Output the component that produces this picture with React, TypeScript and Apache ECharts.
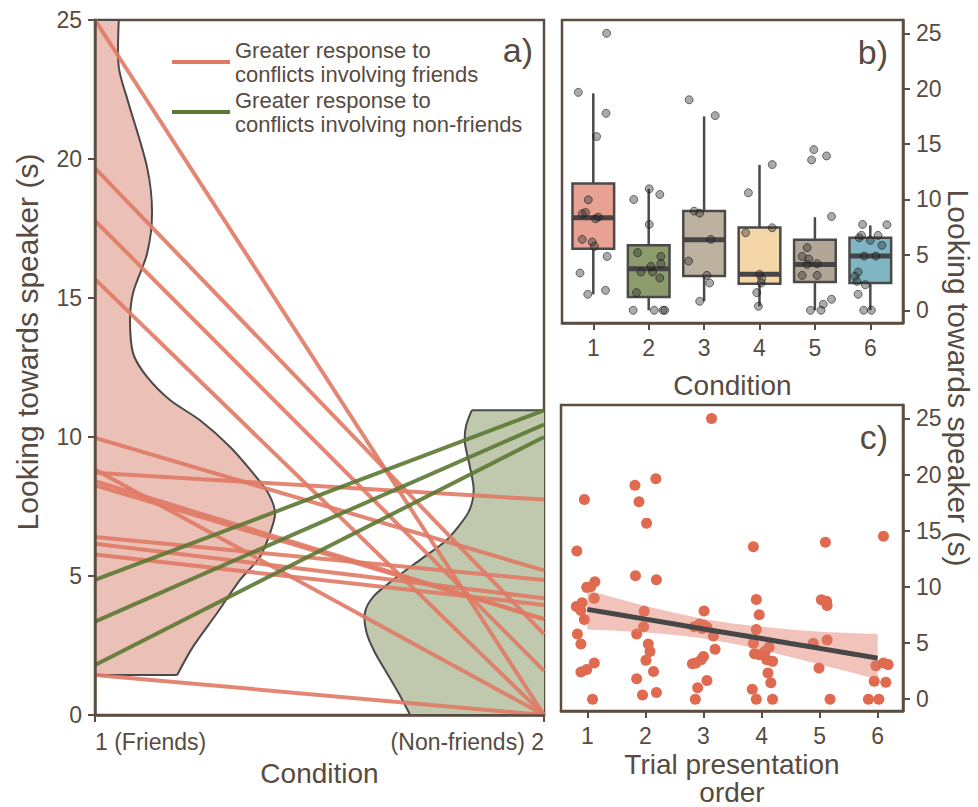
import React, { useEffect, useRef } from "react";
import * as echarts from "echarts";

// ---------- Panel a: paired values per participant ----------
const friendsValues = [25, 19.67, 17.78, 15.68, 9.97, 8.83, 8.71, 8.41, 8.26, 6.4, 6.16, 5.77, 4.86, 3.36, 1.8, 1.44];
const nonFriendsValues = [0, 2.91, 1.59, 0, 5.2, 0, 7.75, 3.45, 3.45, 4.86, 4.2, 3.96, 10.96, 10.45, 10.0, 0];
const conditionLabelsA = ["1 (Friends)", "(Non-friends) 2"];

// half-violin outlines: value levels and half widths (fraction of category spacing)
const violinFriendsY = [1.44, 2.45, 3.67, 4.86, 5.68, 6.55, 7.27, 8.0, 8.7, 9.64, 10.6, 11.33, 12.16, 13.0, 14.2, 15.2, 16.6, 18.06, 19.7, 22.1, 23.3, 25];
const violinFriendsW = [0.183, 0.218, 0.272, 0.323, 0.367, 0.39, 0.401, 0.385, 0.352, 0.301, 0.234, 0.167, 0.116, 0.085, 0.078, 0.085, 0.116, 0.127, 0.116, 0.073, 0.053, 0.053];
const violinNonFriendsY = [0, 0.79, 1.51, 2.23, 2.95, 3.67, 4.26, 4.86, 5.58, 6.29, 6.77, 7.27, 7.73, 8.21, 8.93, 9.78, 10.37, 10.96];
const violinNonFriendsW = [0.298, 0.324, 0.35, 0.376, 0.395, 0.399, 0.38, 0.336, 0.276, 0.217, 0.191, 0.169, 0.159, 0.157, 0.165, 0.176, 0.174, 0.161];

// ---------- Panel b: boxplots per condition ----------
const conditions = [1, 2, 3, 4, 5, 6];
const boxLow = [1.44, 0, 0.81, 0.36, 0, 0];
const boxQ1 = [5.56, 1.2, 3.09, 2.4, 2.55, 2.46];
const boxMedian = [8.35, 3.75, 6.37, 3.24, 4.14, 4.89];
const boxQ3 = [11.44, 5.86, 8.95, 7.48, 6.37, 6.55];
const boxHigh = [19.58, 10.96, 17.5, 13.12, 8.4, 7.66];
const boxColors = ["#e8a294", "#8d9c6d", "#bdb2a0", "#f5d6a8", "#b2a696", "#80b6c4"];

const stripX = [
  1.24, 0.73, 1.23, 1.06, 0.91, 0.8, 0.86, 1.04, 1.09, 0.8, 0.98, 1.02, 1.25, 0.76, 0.9, 1.22,
  1.73, 2.01, 2.2, 2.01, 1.8, 2.04, 1.86, 2.07, 2.22, 2.22, 2.2, 1.78, 1.72, 2.1, 2.26, 2.29,
  2.73, 3.2, 2.82, 2.92, 3.12, 2.72, 3.05, 3.1, 2.92,
  3.8, 4.23, 3.75, 4.23, 4.0, 4.04, 4.03, 3.95, 3.98,
  4.98, 4.94, 5.21, 5.3, 4.86, 4.77, 4.89, 4.86, 5.04, 4.77, 5.04, 5.3, 5.15, 4.92, 5.11,
  5.86, 6.3, 5.8, 5.84, 6.0, 6.14, 6.21, 5.89, 6.1, 5.78, 5.72, 5.76, 5.91, 5.78, 5.88, 6.02,
];
const stripY = [
  25, 19.67, 17.78, 15.68, 9.97, 8.71, 8.83, 8.26, 8.41, 6.4, 6.16, 5.77, 4.86, 3.36, 1.44, 1.8,
  10.0, 10.96, 10.45, 7.75, 5.2, 3.96, 3.45, 3.45, 4.86, 4.2, 2.91, 1.59, 0, 0, 0, 0,
  19.0, 17.57, 8.95, 8.77, 6.4, 4.44, 3.15, 2.46, 0.81,
  10.6, 13.15, 7.0, 7.45, 3.24, 2.85, 2.46, 1.59, 0.36,
  14.5, 13.57, 13.93, 8.47, 5.65, 4.86, 4.62, 4.14, 4.2, 3.15, 3.15, 0.99, 0.54, 0, 0,
  7.75, 7.72, 6.55, 6.76, 6.31, 6.76, 5.86, 4.89, 4.89, 3.45, 3.06, 2.61, 2.31, 1.44, 0, 0,
];

// ---------- Panel c: trial order ----------
const trialX = [
  0.82, 0.95, 0.99, 1.13, 1.06, 1.12, 0.81, 0.91, 0.89, 0.95, 0.83, 0.89, 0.89, 0.99, 1.12, 1.09,
  1.82, 2.18, 1.89, 2.02, 1.83, 2.19, 1.98, 1.97, 1.85, 2.05, 2.08, 2.01, 2.14, 1.85, 1.95, 2.19,
  3.14, 3.01, 2.84, 2.93, 2.98, 3.0, 3.06, 3.17, 3.2, 3.0, 2.96, 2.87, 2.81, 3.06, 2.9, 2.86,
  3.86, 3.91, 3.96, 3.91, 3.86, 3.88, 3.96, 4.06, 4.13, 4.09, 4.19, 4.11, 4.16, 3.84, 3.91, 4.19,
  5.1, 5.03, 5.12, 5.13, 4.89, 5.13, 4.99, 5.18,
  6.1, 5.97, 6.1, 6.18, 5.94, 6.14, 5.84, 6.02,
];
const trialY = [
  13.19, 17.79, 9.96, 10.46, 10.02, 9.0, 8.26, 8.59, 7.91, 7.09, 5.8, 4.92, 2.43, 2.64, 3.22, 0,
  19.05, 19.64, 17.58, 15.68, 10.99, 10.64, 7.83, 6.45, 5.8, 4.92, 4.25, 3.46, 2.46, 1.82, 0.38, 0.59,
  25.0, 7.85, 6.45, 6.7, 6.3, 6.6, 6.4, 5.63, 4.45, 3.81, 3.52, 3.22, 3.16, 1.67, 1.03, 0,
  13.57, 8.88, 7.53, 6.21, 4.98, 4.04, 3.96, 4.25, 4.63, 3.52, 3.37, 2.34, 1.47, 0.88, 0, 0,
  13.98, 8.85, 8.73, 8.35, 4.98, 5.28, 2.78, 0,
  14.51, 2.99, 3.22, 3.08, 1.61, 1.52, 0, 0,
];
const trendX = [1, 1.5, 2, 2.5, 3, 3.5, 4, 4.5, 5, 5.5, 6];
const trendY = [8.0, 7.57, 7.13, 6.7, 6.26, 5.83, 5.4, 4.96, 4.53, 4.09, 3.66];
const bandHigh = [9.7, 9.0, 8.3, 7.7, 7.15, 6.75, 6.45, 6.2, 6.0, 5.9, 5.8];
const bandLow = [6.2, 6.1, 5.95, 5.75, 5.4, 4.95, 4.4, 3.75, 3.1, 2.45, 1.75];

const yTicks = [0, 5, 10, 15, 20, 25];

const FONT = "'Liberation Sans', Arial, Helvetica, sans-serif";
const AXIS = "#5b4e40";
const TEXT = "#574b3f";
const RED = "#e07a65";
const GREEN = "#5c7833";
const NAME_F = "Greater response to\nconflicts involving friends";
const NAME_NF = "Greater response to\nconflicts involving non-friends";
const Y_TITLE = "Looking towards speaker (s)";

export default function App() {
  const ref = useRef<HTMLDivElement>(null);

  useEffect(() => {
    if (!ref.current) return;
    const chart = echarts.init(ref.current, null, { renderer: "svg" });

    const tickStyle = (extra: any = {}) => ({
      show: true,
      length: 7,
      lineStyle: { color: AXIS, width: 2 },
      ...extra,
    });
    const labelStyle = (extra: any = {}) => ({
      color: TEXT,
      fontSize: 23,
      fontFamily: FONT,
      ...extra,
    });
    const nameStyle = { color: TEXT, fontSize: 28, fontFamily: FONT };
    const axisLine = { show: true, onZero: false, lineStyle: { color: AXIS, width: 2.5 } };

    const participantSeries = friendsValues.map((f, i) => {
      const nf = nonFriendsValues[i];
      const friendsHigher = f > nf;
      const color = friendsHigher ? RED : GREEN;
      return {
        type: "line",
        name: friendsHigher ? NAME_F : NAME_NF,
        xAxisIndex: 0,
        yAxisIndex: 0,
        data: [
          [1, f],
          [2, nf],
        ],
        symbol: "none",
        silent: true,
        z: friendsHigher ? 3 : 4,
        lineStyle: { color, width: 4, opacity: 0.9 },
        itemStyle: { color },
        emphasis: { disabled: true },
      };
    });

    const violinSeries = {
      type: "custom",
      xAxisIndex: 0,
      yAxisIndex: 0,
      silent: true,
      z: 1,
      data: [[1], [2]],
      renderItem: (params: any, api: any) => {
        const i = params.dataIndex;
        const ys = i === 0 ? violinFriendsY : violinNonFriendsY;
        const ws = i === 0 ? violinFriendsW : violinNonFriendsW;
        const base = i === 0 ? 1 : 2;
        const dir = i === 0 ? 1 : -1;
        const curve = ys.map((y, k) => api.coord([base + dir * ws[k], y]));
        const b0 = api.coord([base, ys[0]]);
        const b1 = api.coord([base, ys[ys.length - 1]]);
        const fill = i === 0 ? "#ebc0b6" : "#c0c8ae";
        const stroke = { stroke: "#4a4a4a", lineWidth: 2, fill: "none" };
        const last = curve[curve.length - 1];
        return {
          type: "group",
          children: [
            {
              type: "polygon",
              shape: { points: [b0, ...curve, b1] },
              style: { fill, stroke: "none" },
            },
            { type: "polyline", shape: { points: curve, smooth: 0.3 }, style: stroke },
            { type: "line", shape: { x1: b0[0], y1: b0[1], x2: curve[0][0], y2: curve[0][1] }, style: stroke },
            { type: "line", shape: { x1: b1[0], y1: b1[1], x2: last[0], y2: last[1] }, style: stroke },
          ],
        };
      },
    };

    const boxSeries = {
      type: "custom",
      xAxisIndex: 1,
      yAxisIndex: 1,
      silent: true,
      z: 2,
      encode: { x: 0, y: [1, 2, 3, 4, 5] },
      data: conditions.map((c, i) => [c, boxLow[i], boxQ1[i], boxMedian[i], boxQ3[i], boxHigh[i]]),
      renderItem: (params: any, api: any) => {
        const idx = params.dataIndex;
        const x = api.value(0);
        const lo = api.value(1);
        const q1 = api.value(2);
        const med = api.value(3);
        const q3 = api.value(4);
        const hi = api.value(5);
        const half = 0.376;
        const tl = api.coord([x - half, q3]);
        const br = api.coord([x + half, q1]);
        const cHi = api.coord([x, hi]);
        const cQ3 = api.coord([x, q3]);
        const cQ1 = api.coord([x, q1]);
        const cLo = api.coord([x, lo]);
        const mL = api.coord([x - half, med]);
        const mR = api.coord([x + half, med]);
        const edge = { stroke: "#4a4a4a", lineWidth: 2.5 };
        return {
          type: "group",
          children: [
            { type: "line", shape: { x1: cHi[0], y1: cHi[1], x2: cQ3[0], y2: cQ3[1] }, style: edge },
            { type: "line", shape: { x1: cQ1[0], y1: cQ1[1], x2: cLo[0], y2: cLo[1] }, style: edge },
            {
              type: "rect",
              shape: { x: tl[0], y: tl[1], width: br[0] - tl[0], height: br[1] - tl[1] },
              style: { fill: boxColors[idx], ...edge },
            },
            { type: "line", shape: { x1: mL[0], y1: mL[1], x2: mR[0], y2: mR[1] }, style: { stroke: "#454545", lineWidth: 5 } },
          ],
        };
      },
    };

    const bandSeries = {
      type: "custom",
      xAxisIndex: 2,
      yAxisIndex: 2,
      silent: true,
      z: 3,
      data: [[trendX[0], trendY[0]]],
      renderItem: (_params: any, api: any) => {
        const upper = trendX.map((x, i) => api.coord([x, bandHigh[i]]));
        const lower = trendX.map((x, i) => api.coord([x, bandLow[i]])).reverse();
        return {
          type: "polygon",
          shape: { points: [...upper, ...lower] },
          style: { fill: "rgba(226,122,104,0.45)", stroke: "none" },
        };
      },
    };

    const textEl = (text: string, x: number, y: number, fontSize: number, align: string, rotation = 0) => ({
      type: "text",
      x,
      y,
      rotation,
      silent: true,
      style: {
        text,
        fontSize,
        fontFamily: FONT,
        fill: TEXT,
        align,
        verticalAlign: "middle",
        textAlign: align,
        textVerticalAlign: "middle",
      },
    });

    const option: any = {
      animation: false,
      backgroundColor: "#ffffff",
      textStyle: { fontFamily: FONT },
      legend: {
        data: [
          { name: NAME_F, icon: "rect", itemStyle: { color: RED } },
          { name: NAME_NF, icon: "rect", itemStyle: { color: GREEN } },
        ],
        orient: "vertical",
        left: 167,
        top: 33,
        padding: 5,
        itemWidth: 58,
        itemHeight: 4,
        itemGap: 2,
        selectedMode: false,
        textStyle: { color: TEXT, fontSize: 22, lineHeight: 24, fontFamily: FONT },
      },
      grid: [
        { left: 95, top: 20, width: 449, height: 695, show: true, borderColor: AXIS, borderWidth: 2.5, backgroundColor: "transparent" },
        { left: 562, top: 20, width: 341, height: 303, show: true, borderColor: AXIS, borderWidth: 2.5, backgroundColor: "transparent" },
        { left: 561, top: 405, width: 342, height: 310, show: true, borderColor: AXIS, borderWidth: 2.5, backgroundColor: "transparent" },
      ],
      xAxis: [
        {
          gridIndex: 0,
          type: "value",
          min: 1,
          max: 2,
          interval: 1,
          z: 6,
          axisLine,
          axisTick: tickStyle(),
          splitLine: { show: false },
          axisLabel: labelStyle({
            margin: 15,
            formatter: (v: number) => (v === 1 ? conditionLabelsA[0] : conditionLabelsA[1]),
            alignMinLabel: "left",
            alignMaxLabel: "right",
            showMinLabel: true,
            showMaxLabel: true,
          }),
          name: "Condition",
          nameLocation: "middle",
          nameGap: 44,
          nameTextStyle: nameStyle,
        },
        {
          gridIndex: 1,
          type: "value",
          min: 0.435,
          max: 6.59,
          z: 6,
          axisLine,
          axisTick: tickStyle({ customValues: conditions }),
          splitLine: { show: false },
          axisLabel: labelStyle({ margin: 13, customValues: conditions }),
          name: "Condition",
          nameLocation: "middle",
          nameGap: 48,
          nameTextStyle: nameStyle,
        },
        {
          gridIndex: 2,
          type: "value",
          min: 0.547,
          max: 6.436,
          z: 6,
          axisLine,
          axisTick: tickStyle({ customValues: conditions }),
          splitLine: { show: false },
          axisLabel: labelStyle({ margin: 13, customValues: conditions }),
          name: "Trial presentation\norder",
          nameLocation: "middle",
          nameGap: 39,
          nameTextStyle: { ...nameStyle, lineHeight: 28 },
        },
      ],
      yAxis: [
        {
          gridIndex: 0,
          type: "value",
          min: 0,
          max: 25,
          interval: 5,
          z: 6,
          axisLine,
          axisTick: tickStyle(),
          splitLine: { show: false },
          axisLabel: labelStyle({ margin: 13 }),
        },
        {
          gridIndex: 1,
          type: "value",
          position: "right",
          min: -1.15,
          max: 26.2,
          z: 6,
          axisLine,
          axisTick: tickStyle({ customValues: yTicks }),
          splitLine: { show: false },
          axisLabel: labelStyle({ margin: 13, customValues: yTicks }),
        },
        {
          gridIndex: 2,
          type: "value",
          position: "right",
          min: -1.05,
          max: 26.2,
          z: 6,
          axisLine,
          axisTick: tickStyle({ customValues: yTicks }),
          splitLine: { show: false },
          axisLabel: labelStyle({ margin: 13, customValues: yTicks }),
        },
      ],
      graphic: [
        textEl("a)", 533, 50, 34, "right"),
        textEl("b)", 888, 52, 34, "right"),
        textEl("c)", 888, 437, 34, "right"),
        textEl(Y_TITLE, 27, 342, 30, "center", Math.PI / 2),
        textEl(Y_TITLE, 958, 378, 30, "center", -Math.PI / 2),
      ],
      series: [
        violinSeries,
        ...participantSeries,
        boxSeries,
        {
          type: "scatter",
          xAxisIndex: 1,
          yAxisIndex: 1,
          silent: true,
          z: 4,
          symbolSize: 8,
          data: stripX.map((x, i) => [x, stripY[i]]),
          itemStyle: { color: "rgba(45,45,45,0.5)", borderColor: "rgba(20,20,20,0.7)", borderWidth: 1 },
          emphasis: { disabled: true },
        },
        {
          type: "scatter",
          xAxisIndex: 2,
          yAxisIndex: 2,
          silent: true,
          z: 2,
          symbolSize: 11,
          data: trialX.map((x, i) => [x, trialY[i]]),
          itemStyle: { color: "#df6a4f", opacity: 1 },
          emphasis: { disabled: true },
        },
        bandSeries,
        {
          type: "line",
          xAxisIndex: 2,
          yAxisIndex: 2,
          silent: true,
          z: 4,
          symbol: "none",
          data: trendX.map((x, i) => [x, trendY[i]]),
          lineStyle: { color: "#474747", width: 5 },
          emphasis: { disabled: true },
        },
      ],
    };

    chart.setOption(option);
    return () => chart.dispose();
  }, []);

  return <div ref={ref} style={{ position: "absolute", left: 0, top: 0, width: 978, height: 807 }} />;
}
